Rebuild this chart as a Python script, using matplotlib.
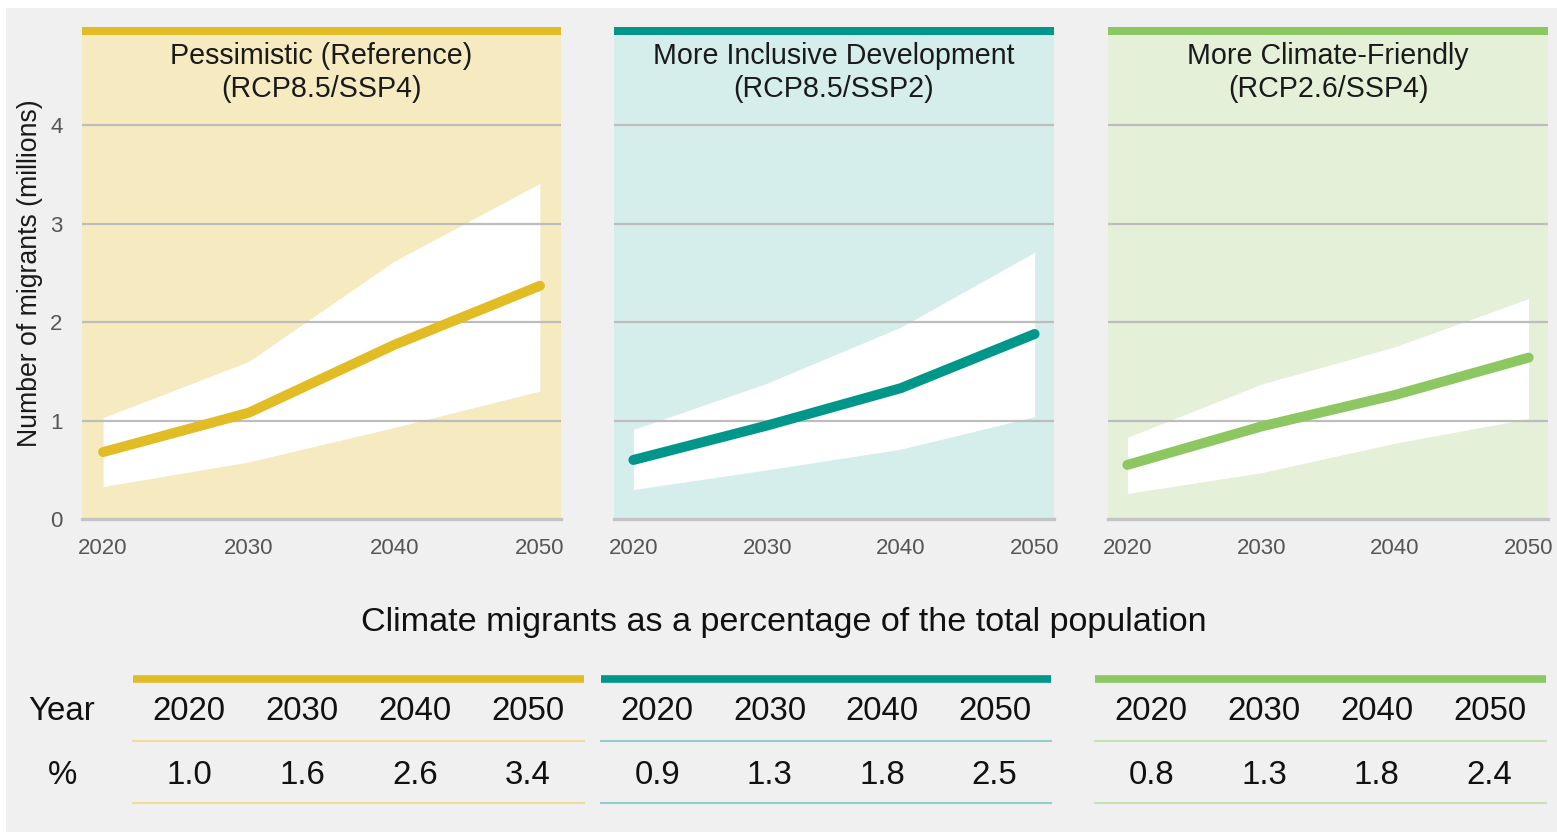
import numpy as np
import matplotlib.pyplot as plt
from matplotlib.patches import Rectangle

plt.rcParams['font.family'] = ['Liberation Sans', 'DejaVu Sans']

# data
years = [2020, 2030, 2040, 2050]
titles = ['Pessimistic (Reference)\n(RCP8.5/SSP4)',
          'More Inclusive Development\n(RCP8.5/SSP2)',
          'More Climate-Friendly\n(RCP2.6/SSP4)']
central = [[0.68, 1.08, 1.77, 2.37],
           [0.60, 0.95, 1.33, 1.88],
           [0.55, 0.94, 1.26, 1.64]]
upper = [[1.03, 1.60, 2.62, 3.41],
         [0.91, 1.38, 1.95, 2.71],
         [0.83, 1.37, 1.75, 2.24]]
lower = [[0.33, 0.58, 0.93, 1.30],
         [0.30, 0.50, 0.71, 1.04],
         [0.26, 0.47, 0.77, 1.02]]
pct = [[1.0, 1.6, 2.6, 3.4],
       [0.9, 1.3, 1.8, 2.5],
       [0.8, 1.3, 1.8, 2.4]]

line_cols = ['#E2BC24', '#00978A', '#8CC761']
bg_cols = ['#F6EBC0', '#D5EEEB', '#E4F0D7']
thin_cols = ['#EEDC9C', '#93CFC9', '#C7E3B2']

W, H = 1557, 832
fig = plt.figure(figsize=(W / 100, H / 100), dpi=100)
fig.patch.set_facecolor('white')


def px_axes(x0, y0, x1, y1, **kw):
    # pixel box (top-left origin) -> figure fraction
    return fig.add_axes([x0 / W, 1 - y1 / H, (x1 - x0) / W, (y1 - y0) / H], **kw)


# background + table layer
bg = px_axes(0, 0, W, H, zorder=0)
bg.set_xlim(0, W)
bg.set_ylim(H, 0)
bg.axis('off')
bg.add_patch(Rectangle((6, 8), W, H, color='#F0F0F0', lw=0))

panels = [(82, 561), (614, 1054), (1108, 1548)]
for i, (x0, x1) in enumerate(panels):
    ax = px_axes(x0, 27, x1, 519, zorder=1)
    ax.set_facecolor(bg_cols[i])
    ax.set_xlim(2018.55, 2051.45)
    ax.set_ylim(0, 5)
    for s in ax.spines.values():
        s.set_visible(False)
    ax.fill_between(years, lower[i], upper[i], color='white', lw=0, zorder=1)
    for g in [1, 2, 3, 4]:
        ax.axhline(g, color='#BDBDBD', lw=1.6, zorder=2)
    ax.axhline(0, color='#C4C4C4', lw=2.4, zorder=2, clip_on=False)
    ax.axhspan(5 - 8 / 98.4, 5, color=line_cols[i], lw=0, zorder=3)
    ax.plot(years, central[i], color=line_cols[i], lw=7.2,
            solid_capstyle='round', solid_joinstyle='round', zorder=4)
    ax.text(0.5, 0.908, titles[i], transform=ax.transAxes, ha='center',
            va='center', fontsize=20.6, color='#1a1a1a', linespacing=1.22)
    ax.set_xticks(years)
    ax.tick_params(axis='x', length=0, pad=14, labelsize=16, labelcolor='#555555')
    if i == 0:
        ax.set_yticks([0, 1, 2, 3, 4])
        ax.tick_params(axis='y', length=0, pad=14, labelsize=16, labelcolor='#555555')
    else:
        ax.set_yticks([])

fig.text(30 / W, 1 - 273 / H, 'Number of migrants (millions)', rotation=90,
         ha='center', va='center', fontsize=19.2, color='#1a1a1a')

bg.text(784, 622, 'Climate migrants as a percentage of the total population',
        ha='center', va='center', fontsize=24.6, color='#111111')

# percentage table
groups = [(133, 584), (601, 1051), (1095, 1546)]
bg.text(62, 712, 'Year', ha='center', va='center', fontsize=23.8, color='#111111')
bg.text(63, 775, '%', ha='center', va='center', fontsize=23.8, color='#111111')
for i, (x0, x1) in enumerate(groups):
    bg.plot([x0, x1], [679, 679], color=line_cols[i], lw=5.5, solid_capstyle='butt')
    bg.plot([x0, x1], [741, 741], color=thin_cols[i], lw=1.5)
    bg.plot([x0, x1], [803, 803], color=thin_cols[i], lw=1.5)
    step = (x1 - x0) / 4
    for j, yr in enumerate(years):
        cx = x0 + step * (j + 0.5)
        bg.text(cx, 712, str(yr), ha='center', va='center', fontsize=23.8, color='#111111')
        bg.text(cx, 775, '%.1f' % pct[i][j], ha='center', va='center',
                fontsize=23.8, color='#111111')

fig.savefig('out.png', dpi=100)
